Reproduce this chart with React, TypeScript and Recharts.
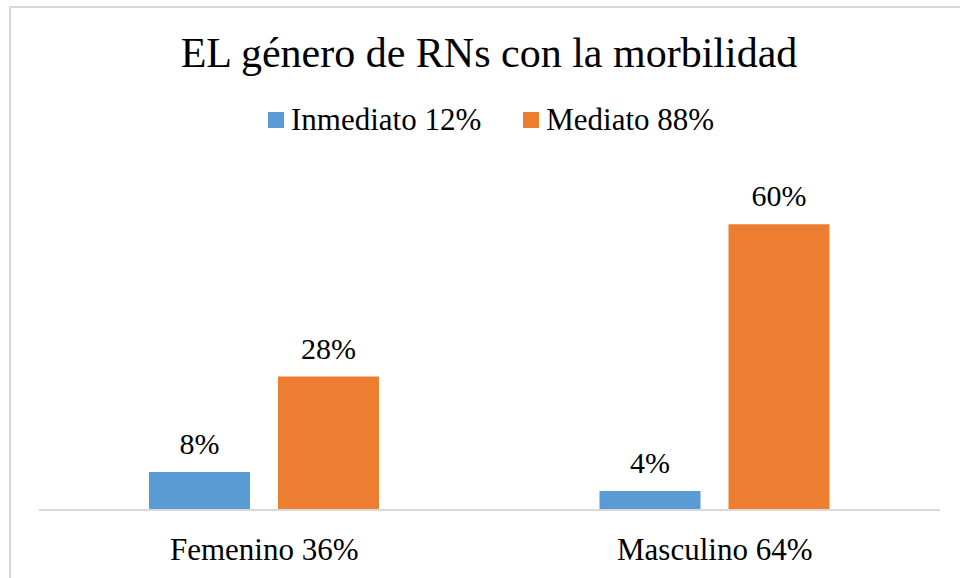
import { BarChart, Bar, XAxis, YAxis, LabelList } from 'recharts';

const categories = ['Femenino 36%', 'Masculino 64%'];
const inmediato = [8, 4];
const mediato = [28, 60];
const seriesNames = ['Inmediato 12%', 'Mediato 88%'];
const seriesColors = ['#5B9BD5', '#ED7D31'];

const data = categories.map((name, i) => ({
  name,
  inmediato: inmediato[i],
  mediato: mediato[i],
}));

const FONT = '"Liberation Serif", "Times New Roman", serif';

export default function App() {
  return (
    <div
      style={{
        position: 'fixed',
        left: 0,
        top: 0,
        width: 960,
        height: 578,
        overflow: 'hidden',
        background: '#fff',
        fontFamily: FONT,
      }}
    >
      {/* chart frame */}
      <div
        style={{
          position: 'absolute',
          left: 9,
          top: 6,
          width: 1000,
          height: 700,
          border: '2px solid #D9D9D9',
          boxSizing: 'border-box',
        }}
      />

      {/* Title */}
      <div
        style={{
          position: 'absolute',
          left: 0,
          width: 978,
          top: 28,
          textAlign: 'center',
          fontSize: 42,
          lineHeight: '50px',
          color: '#000',
        }}
      >
        EL género de RNs con la morbilidad
      </div>

      {/* Legend */}
      <div
        style={{
          position: 'absolute',
          left: 268,
          top: 102,
          display: 'flex',
          alignItems: 'center',
          gap: 42,
          fontSize: 31,
          lineHeight: '36px',
          color: '#000',
        }}
      >
        {seriesNames.map((s, i) => (
          <div key={s} style={{ display: 'flex', alignItems: 'center' }}>
            <span
              style={{
                display: 'inline-block',
                width: 16,
                height: 16,
                background: seriesColors[i],
                marginRight: 7,
              }}
            />
            <span>{s}</span>
          </div>
        ))}
      </div>

      <div style={{ position: 'absolute', left: 0, top: 0 }}>
        <BarChart
          width={960}
          height={578}
          data={data}
          margin={{ top: 176.5, right: 20, left: 39, bottom: 0 }}
          barSize={101}
          barGap={28}
        >
          <XAxis
            dataKey="name"
            height={68}
            axisLine={{ stroke: '#D9D9D9', strokeWidth: 2 }}
            tickLine={false}
            tickSize={0}
            tickMargin={28}
            tick={{ fontSize: 31, fill: '#000', fontFamily: FONT }}
          />
          <YAxis hide domain={[0, 70]} />
          <Bar dataKey="inmediato" name={seriesNames[0]} fill={seriesColors[0]} isAnimationActive={false}>
            <LabelList
              dataKey="inmediato"
              position="top"
              offset={18}
              formatter={(v: number) => `${v}%`}
              style={{ fontSize: 30, fill: '#000', fontFamily: FONT }}
            />
          </Bar>
          <Bar dataKey="mediato" name={seriesNames[1]} fill={seriesColors[1]} isAnimationActive={false}>
            <LabelList
              dataKey="mediato"
              position="top"
              offset={18}
              formatter={(v: number) => `${v}%`}
              style={{ fontSize: 30, fill: '#000', fontFamily: FONT }}
            />
          </Bar>
        </BarChart>
      </div>
    </div>
  );
}
